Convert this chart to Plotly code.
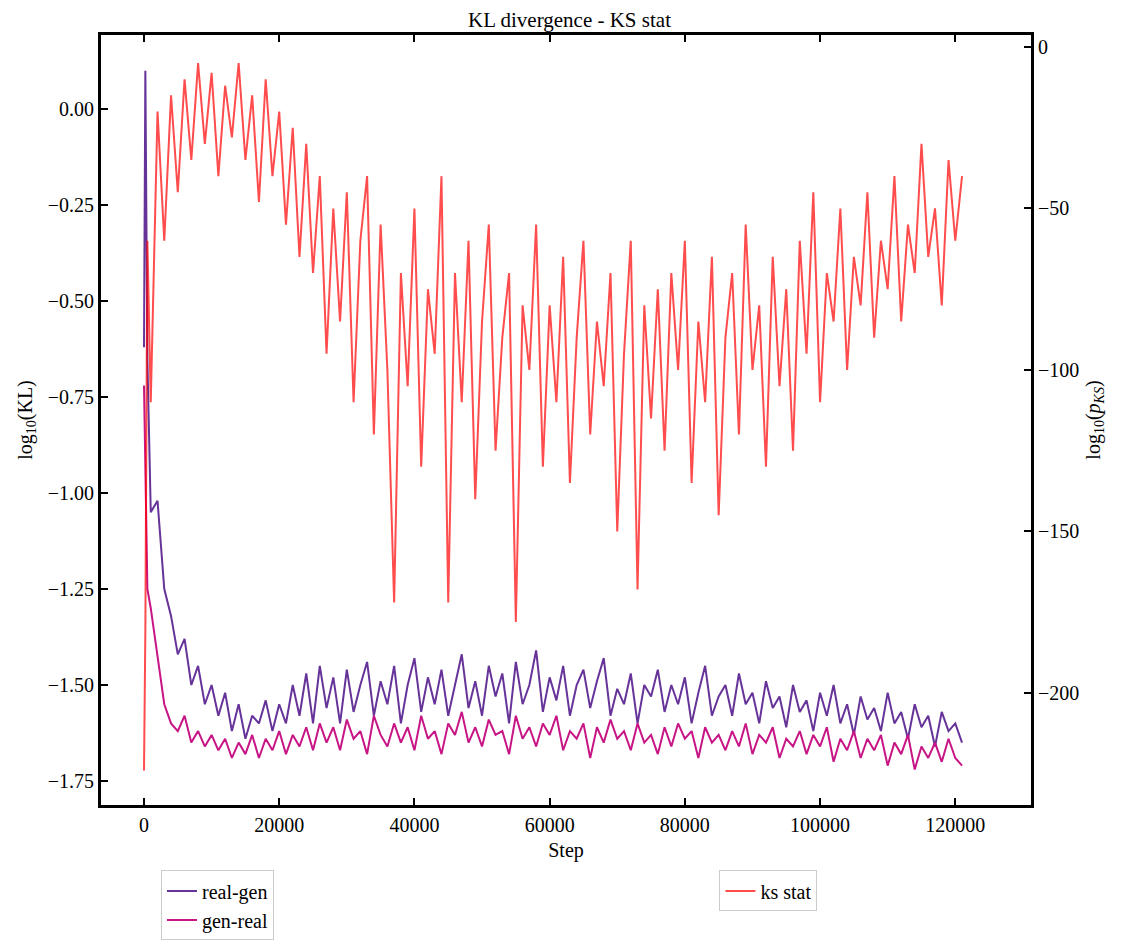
import plotly.graph_objects as go

steps = [0, 200, 500] + list(range(1000, 122000, 1000))

real_gen = [-0.62, 0.10, -0.65, -1.05, -1.02, -1.25, -1.32, -1.42, -1.38, -1.50, -1.45, -1.55, -1.50, -1.58, -1.52,
            -1.62, -1.55, -1.64, -1.58, -1.60, -1.54, -1.62, -1.55, -1.60, -1.50, -1.58, -1.47, -1.60, -1.45,
            -1.56, -1.48, -1.60, -1.46, -1.57, -1.50, -1.44, -1.58, -1.49, -1.55,
            -1.45, -1.60, -1.50, -1.43, -1.57, -1.48, -1.55, -1.46, -1.58, -1.50,
            -1.42, -1.56, -1.49, -1.58, -1.45, -1.53, -1.47, -1.60, -1.44, -1.55,
            -1.50, -1.41, -1.57, -1.48, -1.54, -1.45, -1.58, -1.50, -1.46, -1.56,
            -1.49, -1.43, -1.58, -1.51, -1.55, -1.47, -1.60, -1.50, -1.53, -1.46,
            -1.57, -1.50, -1.55, -1.48, -1.60, -1.52, -1.45, -1.58, -1.53, -1.50,
            -1.58, -1.47, -1.55, -1.52, -1.60, -1.49, -1.56, -1.53, -1.61, -1.50,
            -1.57, -1.54, -1.62, -1.52, -1.58, -1.50, -1.60, -1.55, -1.63, -1.53,
            -1.59, -1.56, -1.62, -1.52, -1.60, -1.57, -1.64, -1.55, -1.61, -1.58,
            -1.66, -1.57, -1.62, -1.60, -1.65]

gen_real = [-0.72, -0.90, -1.25, -1.30, -1.42, -1.55, -1.60, -1.62, -1.58, -1.65, -1.62, -1.66, -1.63, -1.67, -1.64,
            -1.69, -1.65, -1.68, -1.63, -1.69, -1.64, -1.67, -1.62, -1.68, -1.63, -1.66, -1.61, -1.67, -1.60,
            -1.65, -1.61, -1.67, -1.59, -1.64, -1.62, -1.68, -1.58, -1.63, -1.66,
            -1.60, -1.65, -1.61, -1.67, -1.58, -1.64, -1.62, -1.68, -1.60, -1.63,
            -1.57, -1.65, -1.61, -1.66, -1.59, -1.63, -1.62, -1.68, -1.58, -1.64,
            -1.61, -1.66, -1.60, -1.63, -1.58, -1.67, -1.62, -1.64, -1.60, -1.69,
            -1.61, -1.65, -1.59, -1.64, -1.62, -1.67, -1.60, -1.65, -1.63, -1.68,
            -1.61, -1.66, -1.60, -1.64, -1.62, -1.69, -1.61, -1.65, -1.63, -1.67,
            -1.62, -1.66, -1.60, -1.68, -1.63, -1.65, -1.61, -1.69, -1.64, -1.66,
            -1.62, -1.68, -1.63, -1.66, -1.61, -1.70, -1.64, -1.67, -1.62, -1.69,
            -1.64, -1.67, -1.63, -1.71, -1.65, -1.68, -1.63, -1.72, -1.66, -1.69,
            -1.65, -1.70, -1.64, -1.69, -1.71]

ks_stat = [-224, -181, -60, -110, -20, -60, -15, -45, -10, -35, -5, -30, -8, -40, -12,
           -28, -5, -35, -15, -48, -10, -40, -20, -55, -25, -65, -30, -70, -40,
           -95, -50, -85, -45, -110, -60, -40, -120, -55, -100,
           -172, -70, -105, -50, -130, -75, -95, -40, -172, -70,
           -110, -60, -140, -85, -55, -125, -90, -70, -178, -80,
           -100, -55, -130, -80, -110, -65, -135, -90, -60, -120,
           -85, -105, -70, -150, -95, -60, -168, -80, -115, -75,
           -125, -70, -100, -60, -135, -85, -110, -65, -145, -90,
           -70, -120, -55, -100, -80, -130, -65, -105, -75, -125,
           -60, -95, -45, -110, -70, -85, -50, -100, -65, -80,
           -45, -90, -60, -75, -40, -85, -55, -70, -30, -65,
           -50, -80, -35, -60, -40]

fig = go.Figure()
fig.add_trace(go.Scatter(x=steps, y=real_gen, mode="lines", name="real-gen",
                         line=dict(color="#663399", width=2), legend="legend"))
fig.add_trace(go.Scatter(x=steps, y=gen_real, mode="lines", name="gen-real",
                         line=dict(color="#C71585", width=2), legend="legend"))
fig.add_trace(go.Scatter(x=steps, y=ks_stat, mode="lines", name="ks stat", yaxis="y2",
                         line=dict(color="rgba(255,0,0,0.7)", width=2), legend="legend2"))

axis_font = dict(family="Liberation Serif", size=20, color="black")
common = dict(showgrid=False, zeroline=False, ticks="inside", ticklen=7, tickwidth=2,
              tickcolor="black", linecolor="black", linewidth=3, tickfont=axis_font)

fig.update_layout(
    width=1123, height=949,
    margin=dict(l=93, r=100, t=27, b=152),
    plot_bgcolor="white", paper_bgcolor="white",
    font=axis_font,
    title=dict(text="KL divergence - KS stat", x=0.5, xanchor="center", yref="container",
               y=0.988, yanchor="middle", font=dict(family="Liberation Serif", size=21, color="black")),
    xaxis=dict(range=[-6360, 131200], dtick=20000, tickformat="d", showline=True, mirror="ticks",
               title=dict(text="Step", font=axis_font, standoff=8), **common),
    yaxis=dict(range=[-1.8125, 0.193], dtick=0.25, tickformat=".2f", showline=True,
               title=dict(text="log<sub>10</sub>(KL)", font=axis_font, standoff=10), **common),
    yaxis2=dict(range=[-234.7, 3.7], dtick=50, overlaying="y", side="right", showline=True,
                title=dict(text="log<sub>10</sub>(<i>p<sub>KS</sub></i>)", font=axis_font, standoff=8), **common),
    legend=dict(x=0.0645, y=-0.085, xanchor="left", yanchor="top", bordercolor="#cccccc",
                borderwidth=1, font=axis_font, bgcolor="white"),
    legend2=dict(x=0.665, y=-0.085, xanchor="left", yanchor="top", bordercolor="#cccccc",
                 borderwidth=1, font=axis_font, bgcolor="white"),
)

fig.write_html("out.html")
